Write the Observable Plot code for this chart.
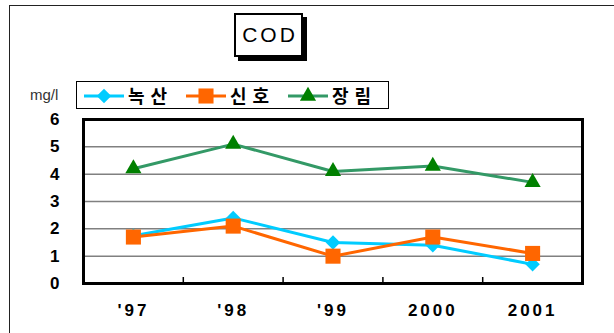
<!DOCTYPE html>
<html>
<head>
<meta charset="utf-8">
<script src="https://cdn.jsdelivr.net/npm/d3@7"></script>
<script src="https://cdn.jsdelivr.net/npm/@observablehq/plot@0.6"></script>
<style>
  html, body { margin: 0; padding: 0; background: #fff; }
  #wrap { position: relative; width: 614px; height: 333px; overflow: hidden; font-family: "Liberation Sans", Arial, sans-serif; }
  #outer { position: absolute; left: 9px; top: 5px; width: 700px; height: 400px; border: 1.5px solid #222; box-sizing: border-box; }
  #title { position: absolute; left: 234px; top: 13px; width: 69px; height: 44px; border: 2px solid #000; box-sizing: border-box; box-shadow: 4px 4px 0 #000; background: #fff;
           font-size: 21px; letter-spacing: 3px; display: flex; align-items: center; justify-content: center; padding-left: 3px; }
  #legend { position: absolute; left: 76px; top: 81px; width: 313px; height: 28px; border: 1px solid #000; box-sizing: border-box; background: #fff; }
  #legend svg { position: absolute; left: 0; top: 0; }
  #unit { position: absolute; left: 30px; top: 86px; font-size: 15px; color: #333; }
  #chart { position: absolute; left: 0; top: 0; }
  svg g[aria-label="x-axis tick label"] text { letter-spacing: 3px; }
</style>
</head>
<body>
<div id="wrap">
  <div id="outer"></div>
  <div id="chart"></div>
  <div id="title">COD</div>
  <div id="unit">mg/l</div>
  <div id="legend"></div>
</div>
<script>
const years = ["'97", "'98", "'99", "2000", "2001"];
const seriesNames = ["녹산", "신호", "장림"];
const noksan = [1.75, 2.4, 1.5, 1.4, 0.7];
const sinho = [1.7, 2.1, 1.0, 1.7, 1.1];
const jangrim = [4.2, 5.1, 4.1, 4.3, 3.7];
const yTicks = [0, 1, 2, 3, 4, 5, 6];

const lineColors = ["#00CCFF", "#FF6600", "#339966"];
const markColors = ["#00CCFF", "#FF6600", "#008000"];
const symbols = ["diamond2", "square", "triangle"];
const radii = [6.5, 8.5, 6];

const values = [noksan, sinho, jangrim];
const rows = values.map((arr, s) => arr.map((v, i) => ({i, v, s})));
const boundaries = years.slice(1).map((_, i) => i + 0.5);

const drawOrder = [2, 0, 1];
const seriesMarks = drawOrder.flatMap(s => [
  Plot.line(rows[s], {x: "i", y: "v", stroke: lineColors[s], strokeWidth: 3}),
  Plot.dot(rows[s], {x: "i", y: "v", symbol: () => symbols[s], fill: markColors[s], stroke: "none", r: radii[s]})
]);

const chart = Plot.plot({
  width: 614,
  height: 333,
  marginLeft: 83,
  marginRight: 32,
  marginTop: 119,
  marginBottom: 50,
  style: {fontFamily: "'Liberation Sans', Arial, sans-serif", background: "transparent"},
  x: {type: "linear", domain: [-0.5, years.length - 0.5]},
  y: {domain: [0, 6]},
  symbol: {type: "identity"},
  marks: [
    Plot.gridY({ticks: yTicks.slice(1, -1), stroke: "#808080", strokeOpacity: 1, strokeWidth: 1.5}),
    Plot.ruleX(boundaries, {x: d => d, y1: 0, y2: 0.22, stroke: "#000", strokeWidth: 1.5}),
    ...seriesMarks,
    Plot.frame({stroke: "#000", strokeWidth: 3}),
    Plot.axisY({ticks: yTicks, tickFormat: d => String(d), tickSize: 0, tickPadding: 24, fontSize: 17, fontWeight: "bold", fill: "#000", label: null}),
    Plot.axisX({ticks: d3.range(years.length), tickFormat: i => years[i], tickSize: 0, tickPadding: 20, fontSize: 17, fontWeight: "bold", fill: "#000", label: null})
  ]
});
document.getElementById("chart").appendChild(chart);

// legend
const legend = d3.select("#legend").append("svg").attr("width", 313).attr("height", 28);
const itemX = [7, 109, 211];
seriesNames.forEach((name, s) => {
  const g = legend.append("g").attr("transform", `translate(${itemX[s]},14)`);
  g.append("line").attr("x1", 0).attr("x2", 40).attr("y1", 0).attr("y2", 0).attr("stroke", lineColors[s]).attr("stroke-width", 3);
  const sym = {diamond2: d3.symbolDiamond2, square: d3.symbolSquare, triangle: d3.symbolTriangle}[symbols[s]];
  g.append("path").attr("d", d3.symbol(sym, Math.PI * radii[s] * radii[s])()).attr("transform", "translate(20,0)").attr("fill", markColors[s]);
  g.append("text").attr("x", 44).attr("y", 7).text(name)
    .attr("font-family", "'Noto Sans CJK KR', sans-serif").attr("font-weight", "bold").attr("font-size", 18)
    .attr("letter-spacing", "6px").attr("fill", "#000");
});
</script>
</body>
</html>
